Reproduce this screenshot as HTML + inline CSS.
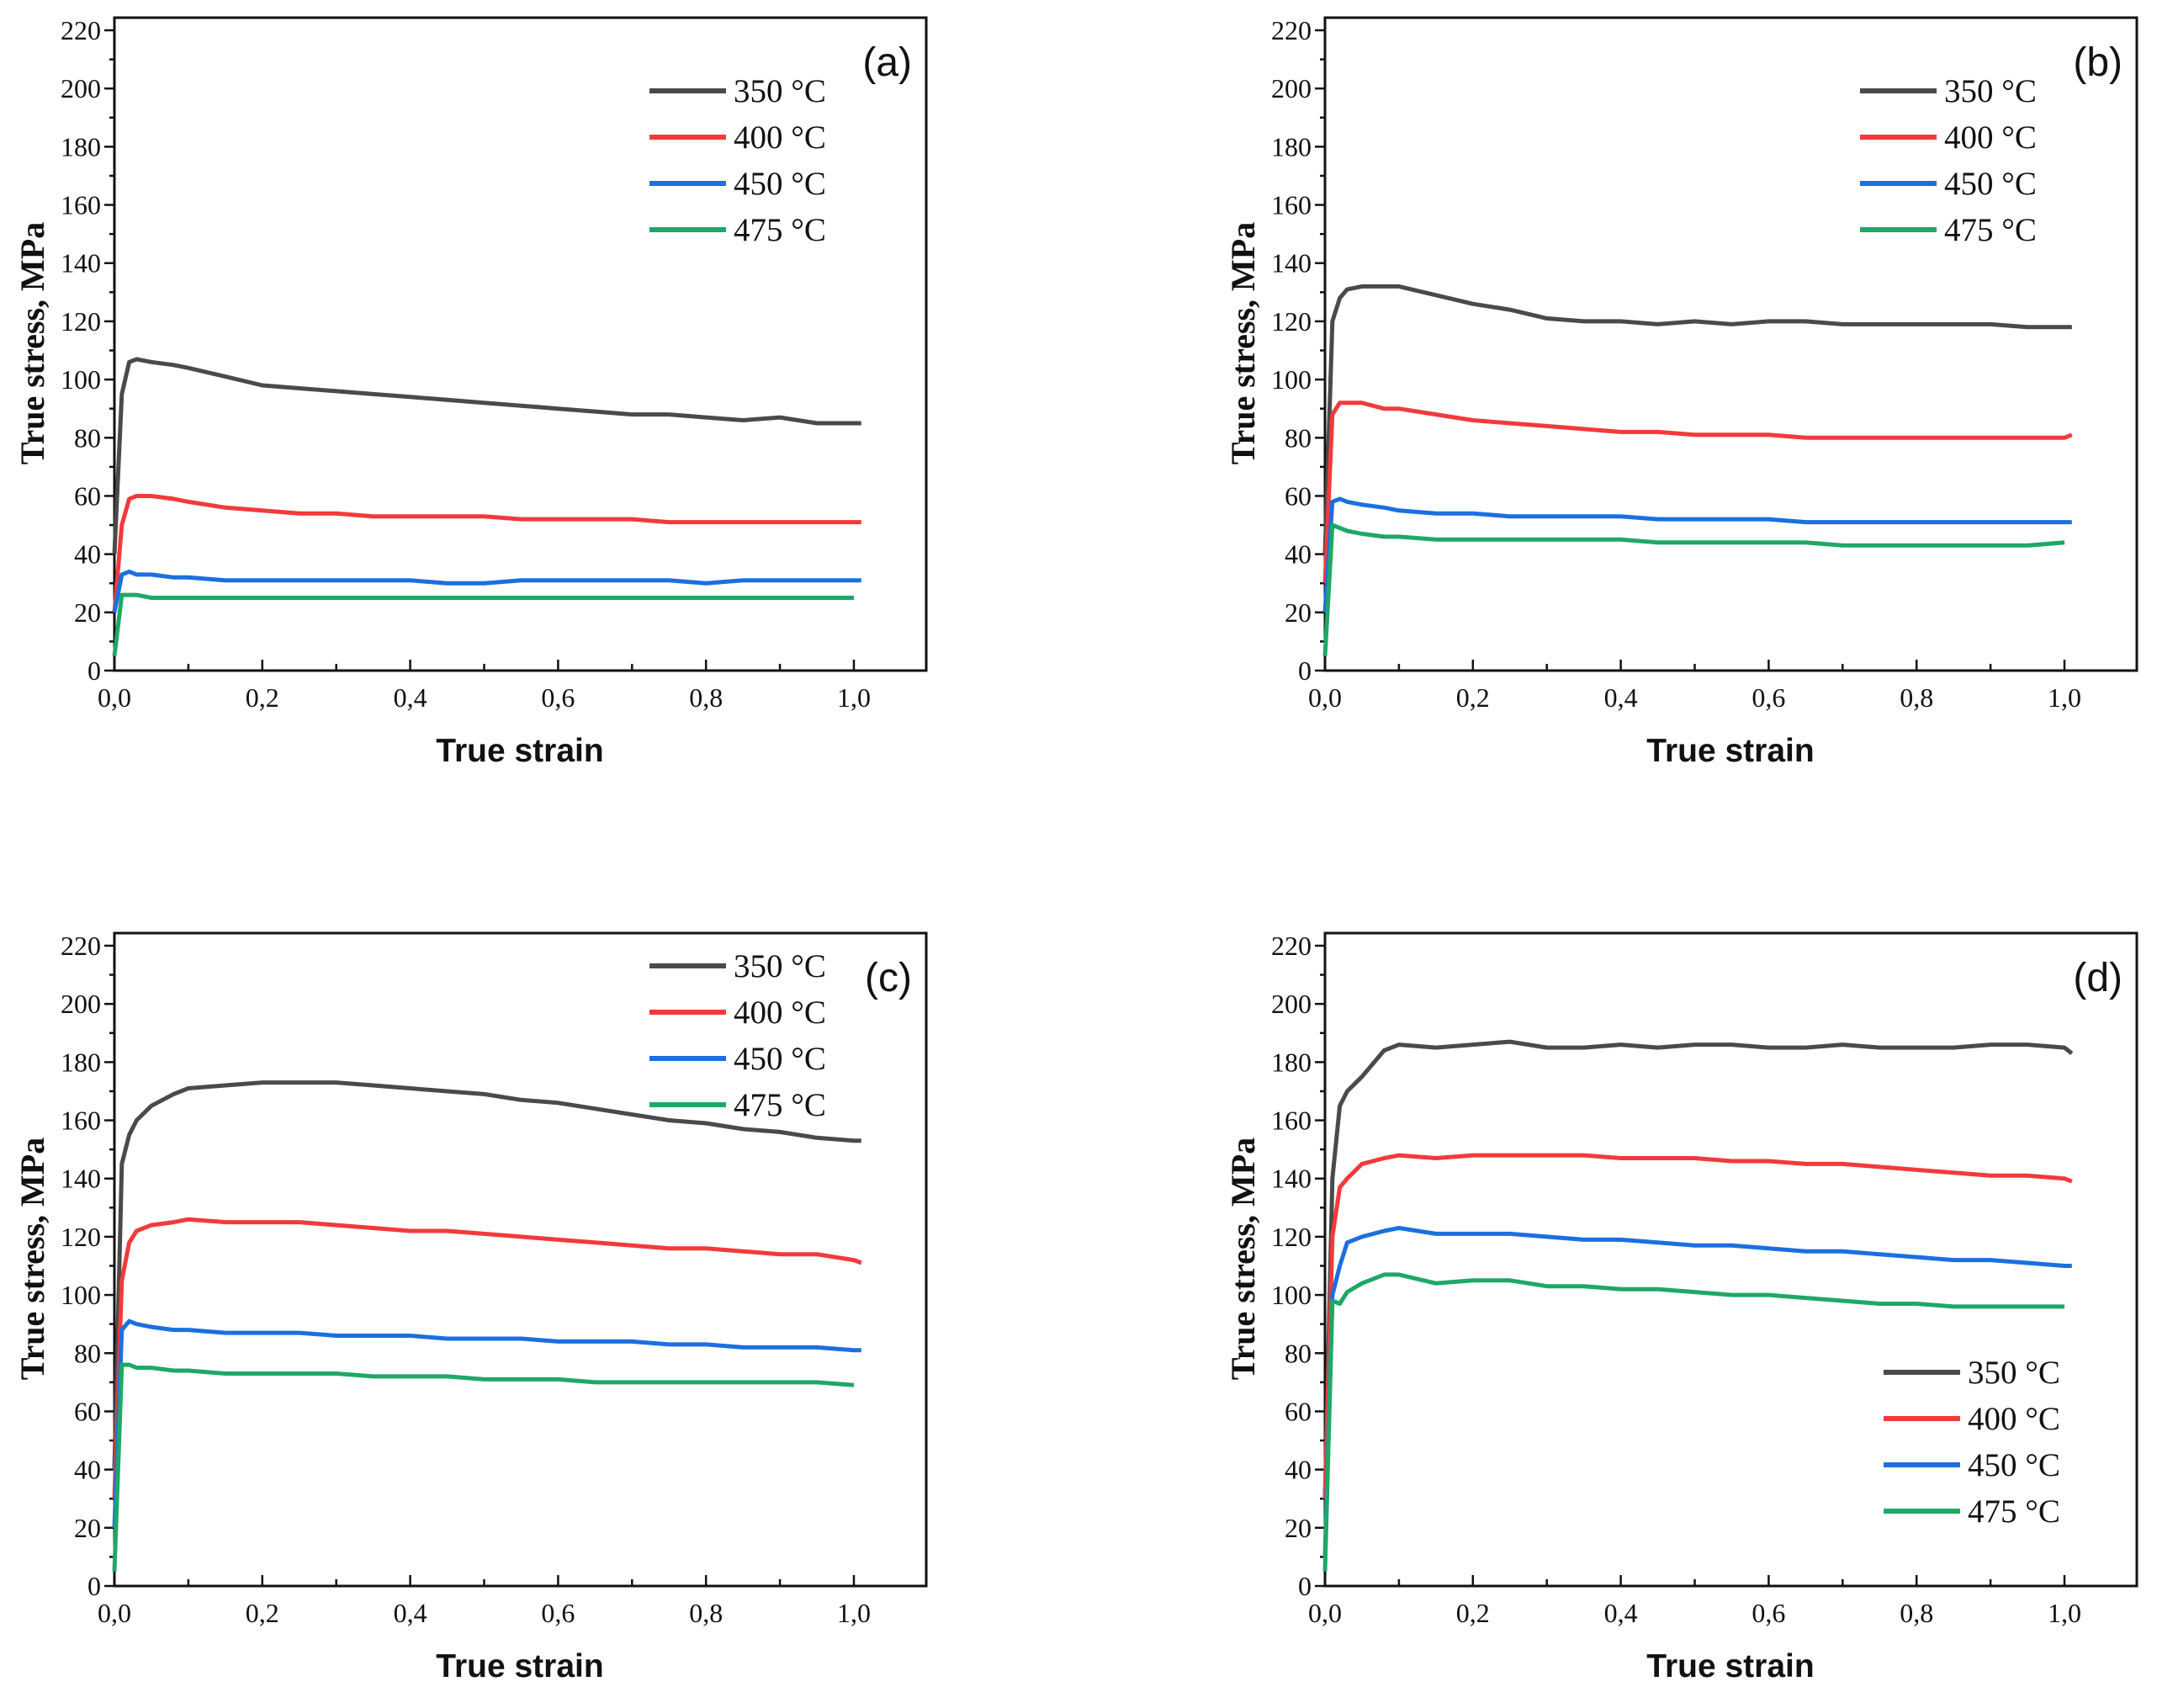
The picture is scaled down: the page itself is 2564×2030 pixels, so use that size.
<!DOCTYPE html>
<html><head><meta charset="utf-8"><style>
html,body{margin:0;padding:0;background:#fff;}
svg{display:block;}
text{font-family:"Liberation Serif",serif;fill:#111;}
</style></head><body>
<svg id="chart" width="2564" height="2030" viewBox="0 0 2564 2030" xmlns="http://www.w3.org/2000/svg"></svg>
<script>
const strain=[0,0.01,0.02,0.03,0.05,0.08,0.1,0.15,0.2,0.25,0.3,0.35,0.4,0.45,0.5,0.55,0.6,0.65,0.7,0.75,0.8,0.85,0.9,0.95,1.0,1.01];
const seriesNames=["350 °C","400 °C","450 °C","475 °C"];
const xTicks=[0,0.2,0.4,0.6,0.8,1.0];
const xTickLabels=["0,0","0,2","0,4","0,6","0,8","1,0"];
const yTicks=[0,20,40,60,80,100,120,140,160,180,200,220];
const panelLabels=["(a)","(b)","(c)","(d)"];
const a350=[40,95,106,107,106,105,104,101,98,97,96,95,94,93,92,91,90,89,88,88,87,86,87,85,85,85];
const a400=[20,50,59,60,60,59,58,56,55,54,54,53,53,53,53,52,52,52,52,51,51,51,51,51,51,51];
const a450=[20,33,34,33,33,32,32,31,31,31,31,31,31,30,30,31,31,31,31,31,30,31,31,31,31,31];
const a475=[5,26,26,26,25,25,25,25,25,25,25,25,25,25,25,25,25,25,25,25,25,25,25,25,25,25];
const b350=[40,120,128,131,132,132,132,129,126,124,121,120,120,119,120,119,120,120,119,119,119,119,119,118,118,118];
const b400=[30,88,92,92,92,90,90,88,86,85,84,83,82,82,81,81,81,80,80,80,80,80,80,80,80,81];
const b450=[20,58,59,58,57,56,55,54,54,53,53,53,53,52,52,52,52,51,51,51,51,51,51,51,51,51];
const b475=[5,50,49,48,47,46,46,45,45,45,45,45,45,44,44,44,44,44,43,43,43,43,43,43,44,44];
const c350=[40,145,155,160,165,169,171,172,173,173,173,172,171,170,169,167,166,164,162,160,159,157,156,154,153,153];
const c400=[30,105,118,122,124,125,126,125,125,125,124,123,122,122,121,120,119,118,117,116,116,115,114,114,112,111];
const c450=[20,88,91,90,89,88,88,87,87,87,86,86,86,85,85,85,84,84,84,83,83,82,82,82,81,81];
const c475=[5,76,76,75,75,74,74,73,73,73,73,72,72,72,71,71,71,70,70,70,70,70,70,70,69,69];
const d350=[30,140,165,170,175,184,186,185,186,187,185,185,186,185,186,186,185,185,186,185,185,185,186,186,185,183];
const d400=[30,120,137,140,145,147,148,147,148,148,148,148,147,147,147,146,146,145,145,144,143,142,141,141,140,139];
const d450=[10,100,110,118,120,122,123,121,121,121,120,119,119,118,117,117,116,115,115,114,113,112,112,111,110,110];
const d475=[5,98,97,101,104,107,107,104,105,105,103,103,102,102,101,100,100,99,98,97,97,96,96,96,96,96];

const NS="http://www.w3.org/2000/svg";
const svg=document.getElementById('chart');
const colors=["#4a4a4a","#f23a3a","#1b6fe0","#1ea866"];
const panels=[
 {ox:0,oy:0,data:[a350,a400,a450,a475],legY:108},
 {ox:1439,oy:0,data:[b350,b400,b450,b475],legY:108},
 {ox:0,oy:1088,data:[c350,c400,c450,c475],legY:60},
 {ox:1439,oy:1088,data:[d350,d400,d450,d475],legY:1631-1088,legDX:28}
];
function mk(tag,attrs,parent){const e=document.createElementNS(NS,tag);for(const k in attrs)e.setAttribute(k,attrs[k]);parent.appendChild(e);return e;}
const L=136,R=1101,T=21,B=797,X1=1015,Y220=36;
panels.forEach((p,pi)=>{
 const g=mk('g',{transform:`translate(${p.ox},${p.oy})`},svg);
 
 
 const xs=v=>L+(X1-L)*v;
 const ys=v=>B-(B-Y220)*v/220;
 const frame=mk('rect',{x:L,y:T,width:R-L,height:B-T,fill:'none',stroke:'#111','stroke-width':3},g);
 
 
 for(let i=0;i<=10;i++){const v=i/10;mk('line',{x1:xs(v),x2:xs(v),y1:B,y2:B-(i%2?8:13),stroke:'#111','stroke-width':2.5},g);}
 xTicks.forEach((v,i)=>{const t=mk('text',{x:xs(v),y:B+43,'text-anchor':'middle','font-size':32},g);t.textContent=xTickLabels[i];
  
  });
 for(let v=0;v<=220;v+=10){mk('line',{x1:L-(v%20?6:12),x2:L,y1:ys(v),y2:ys(v),stroke:'#111','stroke-width':2.5},g);}
 yTicks.forEach(v=>{const t=mk('text',{x:L-16,y:ys(v)+11,'text-anchor':'end','font-size':32},g);t.textContent=v;
  
  });
 const xt=mk('text',{x:618,y:905,'text-anchor':'middle','font-size':39,'font-weight':'bold','style':'font-family:"Liberation Sans",sans-serif'},g);
 xt.textContent="True strain";
 
 
 const yt=mk('text',{x:0,y:0,'text-anchor':'middle','font-size':40,'font-weight':'bold',transform:'translate(52,408) rotate(-90)'},g);
 yt.textContent="True stress, MPa";
 
 
 const pl=mk('text',{x:1084,y:90,'text-anchor':'end','font-size':48,'style':'font-family:"Liberation Sans",sans-serif'},g);
 pl.textContent=panelLabels[pi];
 
 
 p.data.forEach((arr,si)=>{
  const n=(si===3)?arr.length-1:arr.length;
  let d='';for(let i=0;i<n;i++){d+=(i?'L':'M')+xs(strain[i]).toFixed(1)+','+ys(arr[i]).toFixed(1);}
  const path=mk('path',{d:d,fill:'none',stroke:colors[si],'stroke-width':5,'stroke-linejoin':'round'},g);
  
  
  const dx=p.legDX||0;const ly=p.legY+si*55;
  const ll=mk('line',{x1:772+dx,x2:863+dx,y1:ly,y2:ly,stroke:colors[si],'stroke-width':6},g);
  
  
  const lt=mk('text',{x:872+dx,y:ly+13,'font-size':39},g);
  lt.textContent=seriesNames[si];
  
  
 });
});
</script>
</body></html>
